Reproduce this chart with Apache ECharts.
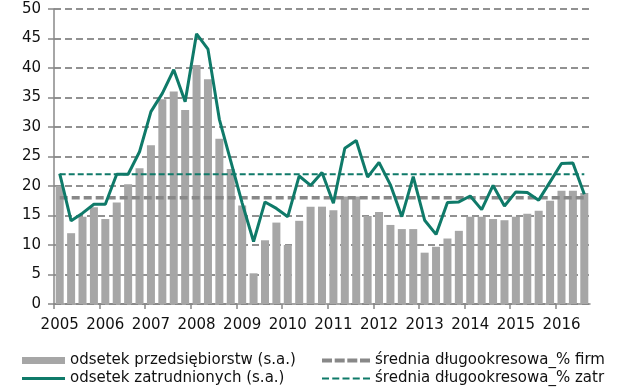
<!DOCTYPE html>
<html><head><meta charset="utf-8">
<script src="https://cdn.jsdelivr.net/npm/echarts@6/dist/echarts.min.js"></script>
<style>html,body{margin:0;padding:0;background:#fff}#c{width:620px;height:392px}</style>
</head><body><div id="c"></div>
<script>
const quarters = [];
for (let y = 2005; y <= 2016; y++) for (let q = 1; q <= 4; q++) quarters.push(y + ' Q' + q);
const categories = quarters.slice(0, 47);
const yearTicks = [2005,2006,2007,2008,2009,2010,2011,2012,2013,2014,2015,2016];
const firmsShare = [20,12,14.8,16.4,14.4,17.2,20.3,23,26.9,34.7,36,32.9,40.5,38.1,28,22.9,
  16.7,5.2,10.8,13.8,10,14.1,16.5,16.5,15.9,18.2,18.2,14.9,15.6,13.4,12.7,12.7,
  8.7,9.7,11.1,12.4,14.8,14.8,14.4,14.2,14.8,15.3,15.8,17.5,19.2,19.2,18.8];
const employeesShare = [22.1,14.1,15.4,16.9,16.9,22,22,25.8,32.6,35.7,39.7,34.3,45.8,43.2,31.3,24.2,
  17.1,10.6,17.3,16.2,14.8,21.7,20.1,22.3,17.1,26.4,27.7,21.5,24,20.2,14.8,21.6,
  14.2,11.8,17.2,17.3,18.3,16,20.1,16.6,19,18.9,17.6,20.7,23.8,23.9,18.6];
const firmsAvg = 18.0;
const employeesAvg = 22.0;
const yearStart = 2005, yearEnd = 2016.75;
const names = ['odsetek przedsiębiorstw (s.a.)','odsetek zatrudnionych (s.a.)','średnia długookresowa_% firm','średnia długookresowa_% zatr'];

const teal = '#0f7a69';
const font = 'DejaVu Sans, Liberation Sans, sans-serif';
const legText = {fontSize:15,color:'#111',fontFamily:font};
const dash4 = 'path://M0,0H10V4H0Z M12.7,0H22.7V4H12.7Z M25.3,0H35.3V4H25.3Z M38,0H48V4H38Z';
const dash5 = 'path://M0,0H7V2H0Z M10.25,0H17.25V2H10.25Z M20.5,0H27.5V2H20.5Z M30.75,0H37.75V2H30.75Z M41,0H48V2H41Z';

const chart = echarts.init(document.getElementById('c'), null, {renderer:'canvas'});
chart.setOption({
  animation:false,
  textStyle:{fontFamily:font},
  grid:{left:54,right:30,top:9,bottom:88},
  legend:[
    {data:[{name:names[0],icon:'rect'}],left:17,top:348,itemWidth:43,itemHeight:7,textStyle:legText,selectedMode:false,symbolKeepAspect:false},
    {data:[{name:names[1],icon:'rect'}],left:17,top:366,itemWidth:43,itemHeight:3,textStyle:legText,selectedMode:false,symbolKeepAspect:false},
    {data:[{name:names[2],icon:dash4}],left:317,top:348,itemWidth:48,itemHeight:4,textStyle:legText,selectedMode:false,symbolKeepAspect:false},
    {data:[{name:names[3],icon:dash5}],left:317,top:366,itemWidth:48,itemHeight:2,textStyle:legText,selectedMode:false,symbolKeepAspect:false}
  ],
  xAxis:[
    {type:'category',data:categories,boundaryGap:true,axisTick:{show:false},
     axisLabel:{interval:3,fontSize:15,color:'#111',margin:14,fontFamily:font,formatter:v=>v.slice(0,4)},
     axisLine:{lineStyle:{color:'#888',width:1.5}}},
    {type:'value',position:'bottom',min:yearStart,max:yearEnd,
     axisLine:{show:false},splitLine:{show:false},axisLabel:{show:false},
     axisTick:{show:true,length:5,customValues:yearTicks,lineStyle:{color:'#888',width:1.5}}}
  ],
  yAxis:{type:'value',min:0,max:50,interval:5,
    axisLine:{show:true,lineStyle:{color:'#888',width:1.5}},
    axisTick:{show:true,length:6,lineStyle:{color:'#888',width:1.5}},
    axisLabel:{fontSize:15,color:'#111',margin:13,fontFamily:font},
    splitLine:{show:true,lineStyle:{color:'#6e6e6e',width:1.5,type:[7,4]}}},
  series:[
    {name:names[0],type:'bar',data:firmsShare,barWidth:8,itemStyle:{color:'#a6a6a6'},z:1},
    {name:names[2],type:'line',data:categories.map(()=>firmsAvg),symbol:'none',
     lineStyle:{color:'#888',width:3.5,type:[8,4]},itemStyle:{color:'#888'},z:2},
    {name:names[3],type:'line',data:categories.map(()=>employeesAvg),symbol:'none',
     lineStyle:{color:teal,width:2,type:[6,3]},itemStyle:{color:teal},z:3},
    {name:names[1],type:'line',data:employeesShare,symbol:'none',
     lineStyle:{color:teal,width:3},itemStyle:{color:teal},z:4}
  ]
});
</script></body></html>
